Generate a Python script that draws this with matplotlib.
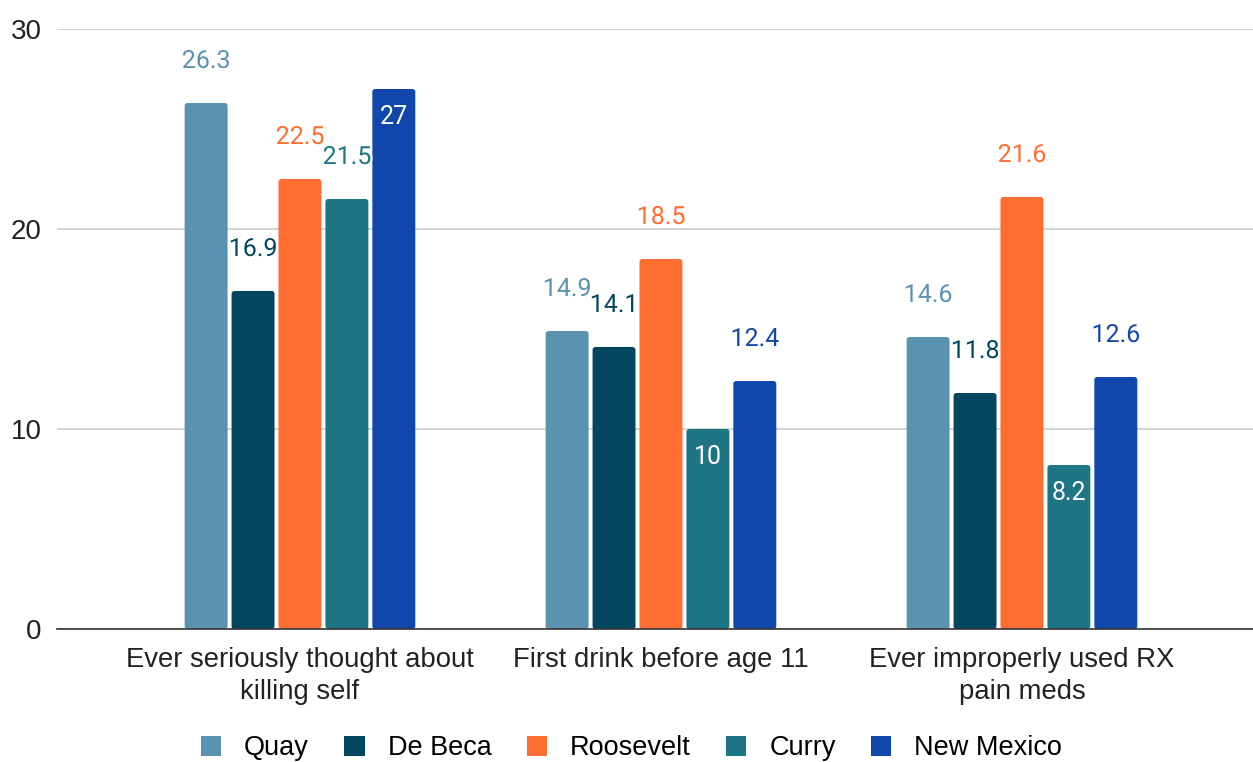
import numpy as np
import matplotlib.pyplot as plt
import matplotlib.patheffects as pe
from matplotlib.patches import FancyBboxPatch, Patch

categories = [
    "Ever seriously thought about\nkilling self",
    "First drink before age 11",
    "Ever improperly used RX\npain meds",
]
series = ["Quay", "De Beca", "Roosevelt", "Curry", "New Mexico"]
quay = [26.3, 14.9, 14.6]
de_beca = [16.9, 14.1, 11.8]
roosevelt = [22.5, 18.5, 21.6]
curry = [21.5, 10, 8.2]
new_mexico = [27, 12.4, 12.6]
values = [quay, de_beca, roosevelt, curry, new_mexico]
colors = ["#5a92af", "#03465f", "#ff6d31", "#1e7584", "#1146aa"]
# labels drawn inside the bar (series index, group index)
inside = [(4, 0), (3, 1), (3, 2)]

fig = plt.figure(figsize=(12.53, 7.62), dpi=100)
ax = fig.add_axes([0.0455, 0.1745, 0.9545, 0.7875])

x = np.arange(len(categories))
width = 0.119
step = 0.130

handles = []
for i, (name, vals, col) in enumerate(zip(series, values, colors)):
    pos = x + (i - 2) * step
    bars = ax.bar(pos, vals, width, color=col, zorder=3)
    # swap plain rectangles for slightly rounded ones
    for r in bars:
        r.remove()
        ax.add_patch(FancyBboxPatch((r.get_x(), r.get_y()), r.get_width(), r.get_height(),
                                    boxstyle="round,pad=0,rounding_size=0.008",
                                    mutation_aspect=18, facecolor=col, edgecolor="none",
                                    zorder=3))
    handles.append(Patch(facecolor=col, label=name))
    for j, v in enumerate(vals):
        txt = f"{v:g}"
        if (i, j) in inside:
            ax.text(pos[j], v - 1.4, txt, ha="center", va="center",
                    color="white", fontsize=18, family="Roboto", zorder=4)
        else:
            ax.text(pos[j], v + 2.1, txt, ha="center", va="center",
                    color=col, fontsize=18, family="Roboto", zorder=4,
                    path_effects=[pe.withStroke(linewidth=3, foreground="white")])

ax.set_xlim(-0.673, 2.64)
ax.set_ylim(0, 30)
ax.set_yticks([0, 10, 20, 30])
ax.yaxis.grid(True, color="#cccccc", linewidth=1.2, zorder=0)
ax.set_xticks(x)
ax.set_xticklabels(categories, fontsize=19.8, family="Liberation Sans", color="#222222",
                   linespacing=1.3)
ax.tick_params(axis="y", length=0, pad=11, labelsize=20, labelcolor="#222222")
ax.tick_params(axis="x", length=0, pad=13)
for lbl in ax.get_yticklabels():
    lbl.set_family("Liberation Sans")
for s in ["top", "right", "left"]:
    ax.spines[s].set_visible(False)
ax.spines["bottom"].set_color("#333333")
ax.spines["bottom"].set_linewidth(1.2)
ax.spines["bottom"].set_zorder(5)

fig.legend(handles=handles, loc="center", bbox_to_anchor=(0.504, 0.018), ncol=5,
           frameon=False, prop={"family": "Liberation Sans", "size": 19.5},
           handlelength=0.75, handleheight=0.75, handletextpad=0.85, columnspacing=1.3)

fig.savefig("out.png", dpi=100)
